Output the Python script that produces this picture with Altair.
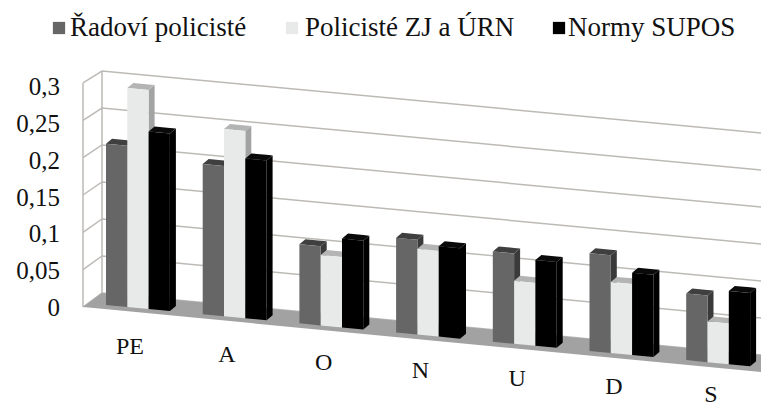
import altair as alt
import pandas as pd

categories = ["PE", "A", "O", "N", "U", "D", "S"]
radovi = [0.218, 0.203, 0.107, 0.128, 0.122, 0.132, 0.090]
zj_urn = [0.296, 0.253, 0.095, 0.116, 0.085, 0.096, 0.055]
supos = [0.240, 0.216, 0.120, 0.122, 0.116, 0.111, 0.099]
series_names = ["Řadoví policisté", "Policisté ZJ a ÚRN", "Normy SUPOS"]
tick_values = [0.3, 0.25, 0.2, 0.15, 0.1, 0.05, 0]
tick_labels = ["0,3", "0,25", "0,2", "0,15", "0,1", "0,05", "0"]

# layout of the oblique 3D view, in page pixels
W, H = 753, 399
OFF = 8
K = 740.0
SLOPE = 0.095
BAR_W = 21.3
STEP = 96.7
X0, Y0 = 106.0, 305.0
DX, DY = 6.0, 5.0
FRONT = ["#666666", "#e8e9e9", "#000000"]
SIDE = ["#3a3a3a", "#a3a3a3", "#000000"]
TOP = ["#3f3f3f", "#b4b4b4", "#0a0a0a"]
GRID = "#bdbab6"
FLOOR = "#a2a2a2"


def base_y(x):
    return Y0 + SLOPE * (x - X0)


rows = []
pid = 0


def add(upper, lower, color):
    global pid
    for (x, yu), (_, yl) in zip(upper, lower):
        rows.append(dict(pid=pid, x=x - OFF, y=yu - OFF, y2=yl - OFF, c=color))
    pid += 1


# floor
fx = [83, 102, 761, 769]
fu = [307, 293, 293 + 0.094 * (761 - 102), 293 + 0.094 * (769 - 102)]
fl = [307, 307 + (372 - 307) / (761 - 83) * 19, 372, 366]
add(list(zip(fx, fu)), list(zip(fx, fl)), FLOOR)

# bars
for i, cat in enumerate(categories):
    for s, vals in enumerate([radovi, zj_urn, supos]):
        x0 = X0 + i * STEP + s * BAR_W
        x1 = x0 + BAR_W
        b0, b1 = base_y(x0), base_y(x1)
        h = vals[i] * K
        t0, t1 = b0 - h, b1 - h
        # side
        add([(x1, t1), (x1 + DX, t1 - DY)], [(x1, b1), (x1 + DX, b1 - DY)], SIDE[s])
        # top
        sl = SLOPE
        add(
            [(x0, t0), (x0 + DX, t0 - DY), (x1, t0 - DY + sl * (x1 - x0 - DX)), (x1 + DX, t1 - DY)],
            [(x0, t0), (x0 + DX, t0 + sl * DX), (x1, t1), (x1 + DX, t1 - DY)],
            TOP[s],
        )
        # front
        add([(x0, t0), (x1, t1)], [(x0, b0), (x1, b1)], FRONT[s])

df = pd.DataFrame(rows)

# grid lines
grid_rows = []
gid = 0
for v in tick_values:
    pts = [
        (83, 307 - 746.7 * v),
        (102, 293 - 740 * v),
        (769, 293 + 0.094 * (769 - 102) - 740 * v),
    ]
    for x, y in pts:
        grid_rows.append(dict(gid=gid, x=x - OFF, y=y - OFF))
    gid += 1
for x, y0, y1 in [(83, 83, 307), (102, 71, 293)]:
    grid_rows.append(dict(gid=gid, x=x - OFF, y=y0 - OFF))
    grid_rows.append(dict(gid=gid, x=x - OFF, y=y1 - OFF))
    gid += 1
grid_df = pd.DataFrame(grid_rows)

tick_df = pd.DataFrame(
    dict(
        label=tick_labels,
        x=[60 - OFF] * len(tick_labels),
        y=[87 + (308 - 87) / 6 * i - OFF for i in range(len(tick_labels))],
    )
)
cat_df = pd.DataFrame(
    dict(
        label=categories,
        x=[130 + 96.8 * i - OFF for i in range(len(categories))],
        y=[347 + 8.0 * i - OFF for i in range(len(categories))],
    )
)
leg_df = pd.DataFrame(
    dict(
        label=series_names,
        sx=[59 - OFF, 292 - OFF, 559 - OFF],
        tx=[70 - OFF, 305 - OFF, 568 - OFF],
        y=[28 - OFF] * 3,
        c=FRONT,
    )
)

xs = alt.Scale(domain=[0, W], range=[0, W], nice=False, zero=False)
ys = alt.Scale(domain=[0, H], range=[0, H], nice=False, zero=False)
X = alt.X("x:Q", scale=xs, axis=None)
Y = alt.Y("y:Q", scale=ys, axis=None)

grid = alt.Chart(grid_df).mark_line(color=GRID, strokeWidth=1.5, clip=True).encode(
    x=X, y=Y, detail="gid:N", order=alt.Order("x:Q")
)
areas = alt.Chart(df).mark_area(opacity=1, strokeWidth=0, clip=True).encode(
    x=X,
    y=Y,
    y2="y2:Q",
    detail="pid:N",
    color=alt.Color("c:N", scale=None),
)
ticks = alt.Chart(tick_df).mark_text(
    font="Liberation Serif", fontSize=25, align="right", baseline="middle", color="#111111"
).encode(x=X, y=Y, text="label:N")
cats = alt.Chart(cat_df).mark_text(
    font="Liberation Serif", fontSize=24, align="center", baseline="middle", color="#111111"
).encode(x=X, y=Y, text="label:N")
leg_sq = alt.Chart(leg_df).mark_point(shape="square", filled=True, size=150, opacity=1).encode(
    x=alt.X("sx:Q", scale=xs, axis=None), y=Y, color=alt.Color("c:N", scale=None)
)
leg_tx = alt.Chart(leg_df).mark_text(
    font="Liberation Serif", fontSize=27, align="left", baseline="middle", color="#111111"
).encode(x=alt.X("tx:Q", scale=xs, axis=None), y=Y, text="label:N")

chart = (
    alt.layer(grid, areas, ticks, cats, leg_sq, leg_tx)
    .properties(width=W, height=H, padding=0, autosize=alt.AutoSizeParams(type="none"))
    .configure_view(stroke=None)
)
chart.save("out.html", embed_options={"renderer": "svg", "actions": False})
